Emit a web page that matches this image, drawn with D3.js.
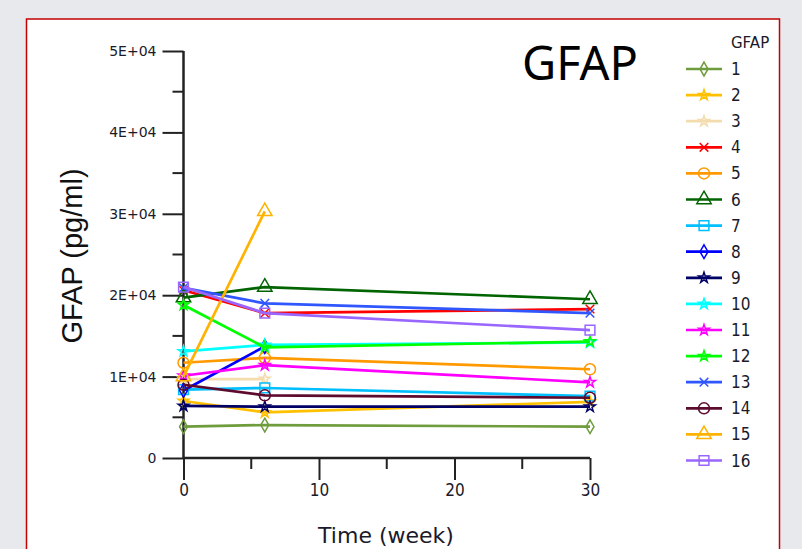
<!DOCTYPE html>
<html>
<head>
<meta charset="utf-8">
<script src="https://cdn.jsdelivr.net/npm/d3@7"></script>
<style>
  body { margin: 0; background: #e8e9ec; }
  svg { display: block; }
</style>
</head>
<body>
<div id="chart"></div>
<script>
// Time points (weeks)
var weeks = [0, 6, 30];

// GFAP (pg/ml) for each subject, null where no sample
var gfap1 = [3850, 4050, 3850];
var gfap2 = [7000, 5600, 6900];
var gfap3 = [9700, 9700, null];
var gfap4 = [20600, 17800, 18300];
var gfap5 = [11700, 12300, 10900];
var gfap6 = [19700, 21000, 19500];
var gfap7 = [8400, 8600, 7600];
var gfap8 = [8300, 13700, null];
var gfap9 = [6400, 6300, 6300];
var gfap10 = [13100, 13900, 14200];
var gfap11 = [10100, 11400, 9300];
var gfap12 = [18800, 13600, 14300];
var gfap13 = [20900, 19000, 17800];
var gfap14 = [9000, 7700, 7400];
var gfap15 = [10000, 30300, null];
var gfap16 = [21000, 17800, 15700];

var seriesNames = ["1", "2", "3", "4", "5", "6", "7", "8", "9", "10", "11", "12", "13", "14", "15", "16"];
var seriesValues = [gfap1, gfap2, gfap3, gfap4, gfap5, gfap6, gfap7, gfap8,
  gfap9, gfap10, gfap11, gfap12, gfap13, gfap14, gfap15, gfap16];

var colors = ["#6f9c3d", "#ffc000", "#f3dcae", "#ff0000", "#ff9900", "#006400", "#00bfff", "#0000ff",
  "#000066", "#00ffff", "#ff00ff", "#00ff00", "#2f56ff", "#5c0a2e", "#ffb300", "#9966ff"];
var markers = ["diamond", "star", "star", "x", "circle", "triangle", "square", "diamond",
  "star", "star", "star", "star", "x", "circle", "triangle", "square"];

var yTicks = [0, 10000, 20000, 30000, 40000, 50000];
var xTicks = [0, 10, 20, 30];

// SVG area
var svgWidth = 802;
var svgHeight = 549;

var svg = d3.select("#chart")
  .append("svg")
  .attr("width", svgWidth)
  .attr("height", svgHeight);

// White card with red frame
svg.append("rect")
  .attr("x", 26.5)
  .attr("y", 19)
  .attr("width", 753)
  .attr("height", 545)
  .attr("fill", "white")
  .attr("stroke", "#c40000")
  .attr("stroke-width", 1.5);

// Scales
var xScale = d3.scaleLinear().domain([0, 30]).range([183.5, 590]);
var yScale = d3.scaleLinear().domain([0, 50000]).range([458, 51]);

var chartGroup = svg.append("g");

// y axis
var leftAxis = d3.axisLeft(yScale)
  .tickValues(yTicks)
  .tickSize(21)
  .tickPadding(6)
  .tickFormat(d => d === 0 ? "0" : (d / 10000) + "E+04");

var yAxis = chartGroup.append("g")
  .attr("transform", `translate(${xScale(0)}, 0)`)
  .call(leftAxis);

yAxis.append("g")
  .selectAll("line")
  .data(d3.range(5000, 50000, 10000))
  .enter()
  .append("line")
  .attr("x1", -11)
  .attr("x2", 0)
  .attr("y1", d => yScale(d))
  .attr("y2", d => yScale(d));

// x axis
var bottomAxis = d3.axisBottom(xScale)
  .tickValues(xTicks)
  .tickSize(22)
  .tickPadding(4);

var xAxis = chartGroup.append("g")
  .attr("transform", `translate(0, ${yScale(0)})`)
  .call(bottomAxis);

xAxis.append("g")
  .selectAll("line")
  .data([5, 15, 25])
  .enter()
  .append("line")
  .attr("x1", d => xScale(d))
  .attr("x2", d => xScale(d))
  .attr("y1", 0)
  .attr("y2", 11);

[yAxis, xAxis].forEach(function(ax) {
  ax.select(".domain").remove();
  ax.selectAll("line").attr("stroke", "#222").attr("stroke-width", 2);
  ax.selectAll("text").attr("fill", "#1a1a2a").attr("font-family", "DejaVu Sans Condensed, DejaVu Sans");
});
yAxis.selectAll("text").attr("font-family", "DejaVu Sans").attr("font-size", 14);
xAxis.selectAll("text").attr("font-size", 17);

// axis lines
chartGroup.append("line")
  .attr("x1", xScale(0)).attr("x2", xScale(0))
  .attr("y1", yScale(50000)).attr("y2", yScale(0))
  .attr("stroke", "#222").attr("stroke-width", 2.5);
chartGroup.append("line")
  .attr("x1", xScale(0)).attr("x2", xScale(30))
  .attr("y1", yScale(0)).attr("y2", yScale(0))
  .attr("stroke", "#222").attr("stroke-width", 2.5);

// symbol lookup
function symbolPath(name, size) {
  var types = {
    diamond: d3.symbolDiamond,
    star: d3.symbolStar,
    x: d3.symbolX,
    circle: d3.symbolCircle,
    triangle: d3.symbolTriangle,
    square: d3.symbolSquare
  };
  return d3.symbol().type(types[name]).size(size)();
}
var markerSize = { diamond: 55, star: 35, x: 50, circle: 95, triangle: 90, square: 95 };

// Lines and markers for each subject
var line = d3.line()
  .defined(d => d.v !== null)
  .x(d => xScale(d.t))
  .y(d => yScale(d.v));

seriesValues.forEach(function(values, i) {
  var pts = values.map((v, j) => ({ t: weeks[j], v: v }));
  var g = chartGroup.append("g");
  g.append("path")
    .datum(pts)
    .attr("d", line)
    .attr("fill", "none")
    .attr("stroke", colors[i])
    .attr("stroke-width", 2.7);
  g.selectAll("path.mk")
    .data(pts.filter(d => d.v !== null))
    .enter()
    .append("path")
    .attr("class", "mk")
    .attr("transform", d => `translate(${xScale(d.t)}, ${yScale(d.v)})`)
    .attr("d", symbolPath(markers[i], markerSize[markers[i]]))
    .attr("fill", "none")
    .attr("stroke", colors[i])
    .attr("stroke-width", 1.5);
});

// Axis titles
svg.append("text")
  .attr("x", 386)
  .attr("y", 543)
  .attr("text-anchor", "middle")
  .attr("font-family", "DejaVu Sans")
  .attr("font-size", 22)
  .attr("fill", "#1a1a2a")
  .text("Time (week)");

svg.append("text")
  .attr("transform", "translate(82, 256) rotate(-90)")
  .attr("text-anchor", "middle")
  .attr("font-family", "Liberation Sans, Arial")
  .attr("font-size", 29)
  .attr("fill", "#111")
  .text("GFAP (pg/ml)");

// Big title
svg.append("text")
  .attr("x", 580)
  .attr("y", 80)
  .attr("text-anchor", "middle")
  .attr("font-family", "Noto Sans, Open Sans")
  .attr("font-size", 47)
  .attr("fill", "#000")
  .text("GFAP");

// Legend
var legend = svg.append("g").attr("transform", "translate(686, 0)");
legend.append("text")
  .attr("x", 45)
  .attr("y", 48)
  .attr("font-family", "DejaVu Sans")
  .attr("font-size", 15)
  .attr("fill", "#1a1a2a")
  .text("GFAP");

var rows = legend.selectAll("g.row")
  .data(seriesNames)
  .enter()
  .append("g")
  .attr("class", "row")
  .attr("transform", (d, i) => `translate(0, ${69 + i * 26.1})`);

rows.append("line")
  .attr("x1", 0).attr("x2", 36)
  .attr("stroke", (d, i) => colors[i])
  .attr("stroke-width", 2.7);
rows.append("path")
  .attr("transform", "translate(18, 0)")
  .attr("d", (d, i) => symbolPath(markers[i], markerSize[markers[i]]))
  .attr("fill", "none")
  .attr("stroke", (d, i) => colors[i])
  .attr("stroke-width", 1.5);
rows.append("text")
  .attr("x", 45)
  .attr("y", 6)
  .attr("font-family", "DejaVu Sans Condensed, DejaVu Sans")
  .attr("font-size", 17)
  .attr("fill", "#1a1a2a")
  .text(d => d);
</script>
</body>
</html>
